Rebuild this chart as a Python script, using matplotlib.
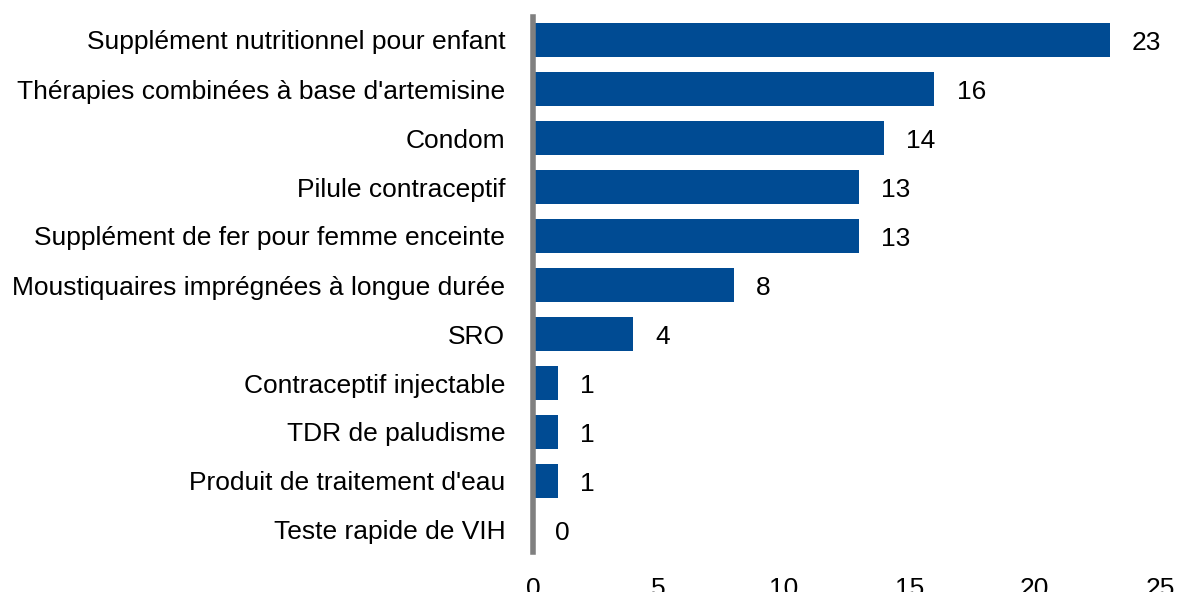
import matplotlib.pyplot as plt

plt.rcParams['font.family'] = ['Liberation Sans', 'DejaVu Sans']

# categories, top to bottom
produits = [
    "Supplément nutritionnel pour enfant",
    "Thérapies combinées à base d'artemisine",
    "Condom",
    "Pilule contraceptif",
    "Supplément de fer pour femme enceinte",
    "Moustiquaires imprégnées à longue durée",
    "SRO",
    "Contraceptif injectable",
    "TDR de paludisme",
    "Produit de traitement d'eau",
    "Teste rapide de VIH",
]
valeurs = [23, 16, 14, 13, 13, 8, 4, 1, 1, 1, 0]
ticks_x = [0, 5, 10, 15, 20, 25]

fig = plt.figure(figsize=(11.77, 5.92), dpi=100)
ax = fig.add_axes([533 / 1177, 1 - 554.5 / 592, 627 / 1177, 539 / 592])

pos = list(range(len(produits)))
ax.barh(pos, valeurs, height=0.7, color='#004b93')
ax.set_ylim(len(produits) - 0.5, -0.5)
ax.set_xlim(0, 25)
ax.set_yticks(pos)
ax.set_yticklabels(produits, fontsize=19)
ax.set_xticks(ticks_x)
ax.set_xticklabels([str(t) for t in ticks_x], fontsize=19)
ax.tick_params(axis='both', length=0)
ax.tick_params(axis='y', pad=20)
ax.tick_params(axis='x', pad=16)

for p, v in zip(pos, valeurs):
    ax.annotate(str(v), (v, p), xytext=(16, -2), textcoords='offset points',
                ha='left', va='center', fontsize=19)

for s in ['top', 'right', 'bottom']:
    ax.spines[s].set_visible(False)
ax.spines['left'].set_color('#808080')
ax.spines['left'].set_linewidth(4)
ax.spines['left'].set_bounds(-0.47, 10.45)

fig.savefig('out.png', dpi=100)
